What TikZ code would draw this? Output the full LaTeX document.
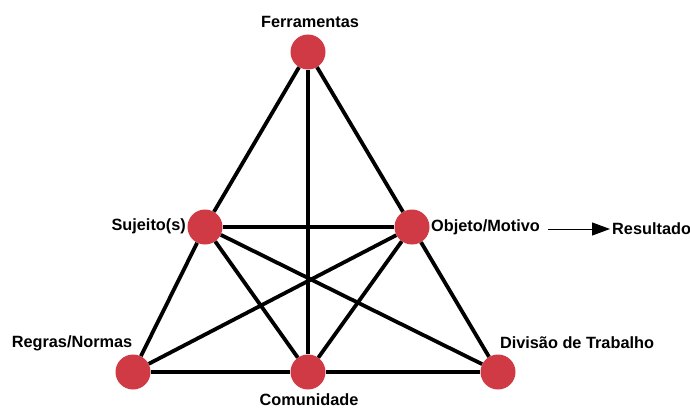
\documentclass[tikz,border=0pt]{standalone}
\usepackage{fontspec}
\setmainfont{Liberation Sans}
\usetikzlibrary{arrows.meta}
\definecolor{dotred}{HTML}{D03A44}
\tikzset{
  dot/.style={circle, fill=dotred, draw=none, minimum size=35pt, inner sep=0pt},
  lbl/.style={inner sep=0pt, font=\fontsize{16.3}{19}\selectfont\bfseries},
  link/.style={line width=3.8pt, black},
}
\begin{document}
\begin{tikzpicture}[x=1pt, y=-1pt]
\useasboundingbox (0,0) rectangle (690,409);
% nodes
\node[dot] (F) at (308,52) {};
\node[dot] (S) at (205,227) {};
\node[dot] (O) at (412,227) {};
\node[dot] (R) at (133,372) {};
\node[dot] (C) at (308,372) {};
\node[dot] (D) at (498,372) {};
% connectors
\draw[link] (F) -- (S);
\draw[link] (S) -- (R);
\draw[link] (F) -- (O);
\draw[link] (O) -- (D);
\draw[link] (F) -- (C);
\draw[link] (S) -- (O);
\draw[link] (S) -- (C);
\draw[link] (S) -- (D);
\draw[link] (O) -- (R);
\draw[link] (O) -- (C);
\draw[link] (R) -- (C);
\draw[link] (C) -- (D);
% labels
\node[lbl] (lF) at (310,22) {Ferramentas};
\node[lbl, anchor=east] (lS) at (186,226) {Sujeito(s)};
\node[lbl, anchor=west] (lO) at (431,227) {Objeto/Motivo};
\node[lbl, anchor=west] (lRes) at (612,229) {Resultado};
\node[lbl] (lR) at (72,343) {Regras/Normas};
\node[lbl] (lD) at (577,343) {Divisão de Trabalho};
\node[lbl] (lC) at (309,400) {Comunidade};
% arrow to Resultado
\coordinate (arr) at (548,229);
\draw[line width=1pt, -{Triangle[length=18pt, width=13pt]}] (arr) -- ([xshift=-2pt]lRes.west);
\end{tikzpicture}
\end{document}
